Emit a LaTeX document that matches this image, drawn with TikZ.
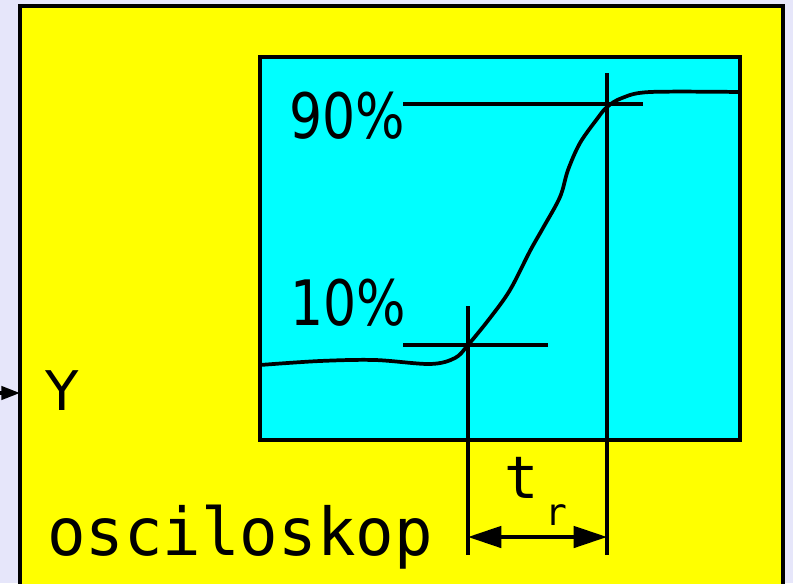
\documentclass[tikz,border=0pt]{standalone}
\usepackage{fontspec}
\usepackage{tikz}
\usetikzlibrary{arrows.meta}
\newfontfamily\lblsans[FakeStretch=0.83]{DejaVu Sans}
\newfontfamily\lblplain{DejaVu Sans}
\newfontfamily\lblmono[FakeStretch=0.97]{DejaVu Sans Mono}
\definecolor{bgcol}{RGB}{230,230,250}
\definecolor{oscyellow}{RGB}{255,255,0}
\definecolor{screencyan}{RGB}{0,255,255}

\begin{document}
\begin{tikzpicture}[x=0.75pt, y=-0.75pt,
  housing/.style={draw, line width=3.2pt, fill=oscyellow},
  screen/.style={draw, line width=2.8pt, fill=screencyan},
  cross/.style={line width=2.8pt},
  trace/.style={line width=2.8pt, line join=round},
  lbl/.style={inner sep=0pt, anchor=base west},
  dim/.style={line width=2.8pt, {Triangle[length=25pt, width=16pt]}-{Triangle[length=25pt, width=16pt]}},
  inarr/.style={line width=2.5pt, -{Triangle[length=14pt, width=10pt]}}
]
\useasboundingbox (0,0) rectangle (793,583);
\clip (0,0) rectangle (793,583);
\fill[bgcol] (0,0) rectangle (793,583);

% housing and screen
\draw[housing] (20,6) rectangle (783,620);
\draw[screen] (260,57) rectangle (740,440);

% input
\coordinate (in) at (-5,393);
\coordinate (oscin) at (20,393);
\draw[inarr] (in) -- (oscin);
\node[lbl] (ylbl) at (45,410) {\lblplain\fontsize{41}{41}\selectfont Y};

% rise of the signal
\draw[trace] plot[smooth, tension=0.55] coordinates {
  (260,365) (320,361) (375,360) (430,364) (455,358) (468,345)
  (490,318) (510,290) (530,251) (543,228) (560,197) (568,170)
  (580,143) (597,119) (607,107) (622,98) (650,92) (740,92)};

% levels
\coordinate (h90a) at (403,104);
\coordinate (h90b) at (643,104);
\coordinate (h10a) at (403,345);
\coordinate (h10b) at (548,345);
\coordinate (v10a) at (468,306);
\coordinate (v10b) at (468,555);
\coordinate (v90a) at (607,73);
\coordinate (v90b) at (607,555);
\draw[cross] (h90a) -- (h90b);
\draw[cross] (h10a) -- (h10b);
\draw[cross] (v10a) -- (v10b);
\draw[cross] (v90a) -- (v90b);

\node[lbl] (p90) at (289,138) {\lblsans\fontsize{47}{47}\selectfont 90\%};
\node[lbl] (p10) at (290,325) {\lblsans\fontsize{47}{47}\selectfont 10\%};

% rise time
\coordinate (tra) at (468,537);
\coordinate (trb) at (607,537);
\draw[dim] (tra) -- (trb);
\node[lbl] (tlbl) at (504,498) {\lblmono\fontsize{44}{44}\selectfont t};
\node[lbl] (rlbl) at (545,525) {\lblmono\fontsize{28}{28}\selectfont r};

\node[lbl] (name) at (47,555) {\lblmono\fontsize{49.5}{49.5}\selectfont osciloskop};
\end{tikzpicture}
\end{document}
